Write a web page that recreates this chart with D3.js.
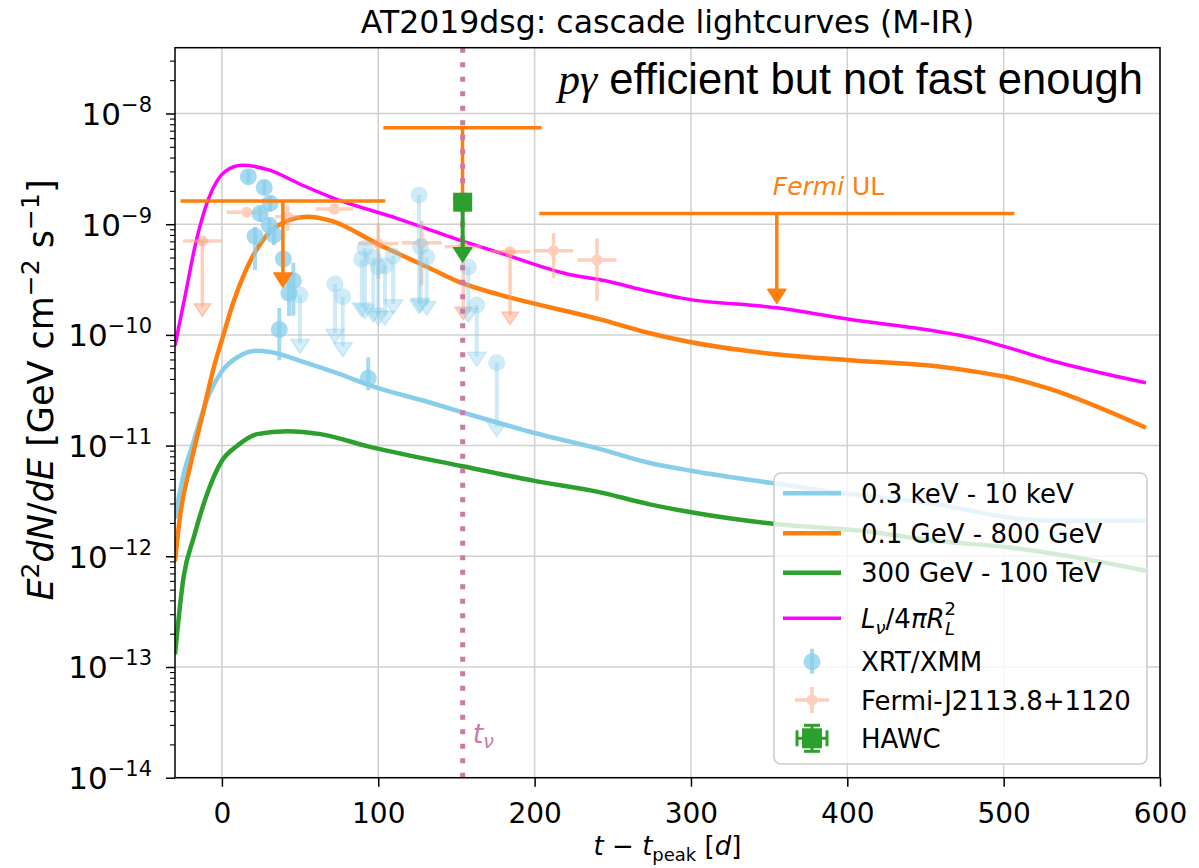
<!DOCTYPE html>
<html><head><meta charset="utf-8">
<script src="https://cdn.jsdelivr.net/npm/d3@7"></script>
<style>body{margin:0;background:#fff}</style>
</head><body>
<svg id="c" width="1199" height="868"></svg>
<script>
// ---------------- data ----------------
const xTicks = [0, 100, 200, 300, 400, 500, 600];
const yTickExps = [-14, -13, -12, -11, -10, -9, -8];

// model curves
const tXray = [-30, -24.5, -18, -10, 0, 10, 22, 31, 52, 70, 100, 133, 159, 200, 242, 273, 301, 356, 402, 457, 504, 528, 591];
const fXray = [2.2e-12, 5.5e-12, 1.1e-11, 2.5e-11, 4.7e-11, 6.3e-11, 7.2e-11, 7.0e-11, 5.7e-11, 4.7e-11, 3.3e-11, 2.45e-11, 1.9e-11, 1.3e-11, 9.3e-12, 7.0e-12, 5.9e-12, 4.5e-12, 3.65e-12, 2.96e-12, 2.24e-12, 2.1e-12, 2.1e-12];

const tGeV = [-30, -26.6, -20, -12, -5, 0, 7.5, 15, 25.6, 38.4, 55, 70, 101, 133, 154.5, 178, 242, 273, 296, 356, 402, 457, 480, 504, 528, 591];
const fGeV = [9e-13, 2.4e-12, 6.8e-12, 2.0e-11, 5.2e-11, 9e-11, 2.0e-10, 3.75e-10, 7.0e-10, 1.02e-9, 1.17e-9, 1.07e-9, 6.5e-10, 4.0e-10, 2.9e-10, 2.3e-10, 1.38e-10, 1.04e-10, 8.8e-11, 6.65e-11, 5.9e-11, 5.2e-11, 4.7e-11, 4.1e-11, 3.3e-11, 1.45e-11];

const tTeV = [-30, -24.5, -18, -9.5, 0, 9.6, 22.4, 41.6, 63, 92.8, 154, 200, 242, 273, 301, 354, 409, 457, 504, 540, 591];
const fTeV = [1.3e-13, 6.5e-13, 1.48e-12, 3.65e-12, 7.3e-12, 9.9e-12, 1.27e-11, 1.35e-11, 1.27e-11, 9.9e-12, 6.5e-12, 4.8e-12, 3.78e-12, 2.96e-12, 2.49e-12, 1.96e-12, 1.7e-12, 1.38e-12, 1.2e-12, 1.01e-12, 7.4e-13];

const tNu = [-30, -23.4, -17, -8.5, 2.2, 12.9, 29.9, 51.2, 70, 112, 154.5, 178, 223, 242, 273, 294, 356, 402, 457, 480, 504, 528, 591];
const fNu = [8e-11, 2.3e-10, 6.5e-10, 1.7e-9, 3.0e-9, 3.4e-9, 3.1e-9, 2.26e-9, 1.75e-9, 1.13e-9, 7.0e-10, 5.5e-10, 3.5e-10, 3.15e-10, 2.48e-10, 2.15e-10, 1.75e-10, 1.38e-10, 1.08e-10, 9.4e-11, 7.6e-11, 6.0e-11, 3.7e-11];

// XRT/XMM detections
const xrtT   = [16.9, 27.1, 30.8, 24.4, 30.3, 21.2, 33.3, 39.3, 45.7, 42.9, 36.7, 93.6];
const xrtF   = [2.69e-9, 2.15e-9, 1.55e-9, 1.25e-9, 9.8e-10, 7.8e-10, 7.97e-10, 4.86e-10, 3.09e-10, 2.38e-10, 1.12e-10, 4.06e-11];
const xrtLo  = [3.5e-10, 3.0e-10, 2.5e-10, 2.0e-10, 1.5e-10, 3.95e-10, 1.5e-10, 0.8e-10, 1.6e-10, 0.9e-10, 5.3e-11, 0.9e-11];
const xrtHi  = [3.5e-10, 3.0e-10, 2.5e-10, 2.0e-10, 1.5e-10, 1.7e-10, 1.2e-10, 0.8e-10, 1.4e-10, 0.8e-10, 6.3e-11, 2.2e-11];
// XRT/XMM upper limits
const xrtUlT   = [50, 126.1, 127.1, 131, 91.5, 89.4, 96.8, 100, 104.3, 109.6, 72.3, 77.3, 157.6, 163, 175.8];
const xrtUlF   = [2.29e-10, 1.84e-9, 6.27e-10, 5.02e-10, 6.05e-10, 4.82e-10, 5.0e-10, 4.13e-10, 4.21e-10, 5.16e-10, 2.88e-10, 2.21e-10, 4.08e-10, 1.86e-10, 5.6e-11];
const xrtUlTip = [6.8e-11, 1.55e-10, 1.6e-10, 1.5e-10, 1.4e-10, 1.45e-10, 1.3e-10, 1.22e-10, 1.22e-10, 1.55e-10, 8.4e-11, 6.35e-11, 1.3e-10, 5.2e-11, 1.2e-11];

// Fermi-J2113.8+1120 points
const fermT    = [15.9, 42, 71.9, 100, 127.8, 212.1, 239.9];
const fermF    = [1.28e-9, 1.17e-9, 1.37e-9, 6.7e-10, 6.8e-10, 5.77e-10, 4.75e-10];
const fermXerr = [12.8, 8, 12, 12.8, 12.8, 12.5, 12.5];
const fermYerr = [1.0e-10, 3.0e-10, 1.0e-10, 3.5e-10, 4.0e-10, 2.52e-10, 2.72e-10];
const fermUlT    = [-12.5, 154.4, 184.3];
const fermUlF    = [7.05e-10, 6.27e-10, 5.65e-10];
const fermUlXerr = [12.3, 11.7, 12.8];
const fermUlTip  = [1.46e-10, 1.36e-10, 1.23e-10];

// Fermi UL (bold)
const ulT    = [39, 153.9, 354.9];
const ulXerr = [65.5, 50.6, 151.9];
const ulF    = [1.62e-9, 7.45e-9, 1.25e-9];
const ulTip  = [2.71e-10, 1.3e-9, 1.93e-10];

// HAWC
const hawcT = [154];
const hawcF = [1.58e-9];
const hawcTip = [4.58e-10];

const tNuLine = 154;

const legendLabels = ["0.3 keV - 10 keV", "0.1 GeV - 800 GeV", "300 GeV - 100 TeV", "Lnu", "XRT/XMM", "Fermi-J2113.8+1120", "HAWC"];

// ---------------- drawing ----------------
const FONT = "DejaVu Sans";
const L = 175, R = 1160, T = 47.7, B = 777.7;
const svg = d3.select('#c');
svg.append('rect').attr('width', 1199).attr('height', 868).attr('fill', '#fff');

const x = d3.scaleLinear().domain([-30, 600]).range([L, R]);
const y = d3.scaleLog().domain([1e-14, 3.93e-8]).range([B, T]);

svg.append('clipPath').attr('id', 'clip').append('rect')
  .attr('x', L).attr('y', T).attr('width', R - L).attr('height', B - T);

// grid
const grid = svg.append('g').attr('stroke', '#d0d0d0').attr('stroke-width', 1.5);
xTicks.forEach(v => grid.append('line').attr('x1', x(v)).attr('x2', x(v)).attr('y1', T).attr('y2', B));
yTickExps.forEach(e => grid.append('line').attr('x1', L).attr('x2', R).attr('y1', y(Math.pow(10, e))).attr('y2', y(Math.pow(10, e))));

const plot = svg.append('g').attr('clip-path', 'url(#clip)');

// curves
const line = d3.line().x(d => x(d[0])).y(d => y(d[1])).curve(d3.curveMonotoneX);
function curve(ts, fs, color, w) {
  plot.append('path').datum(ts.map((t, i) => [t, fs[i]]))
    .attr('d', line).attr('fill', 'none').attr('stroke', color).attr('stroke-width', w)
    .attr('stroke-linejoin', 'round');
}
curve(tXray, fXray, '#87ceeb', 4.5);
curve(tGeV, fGeV, '#ff7f0e', 4.5);
curve(tTeV, fTeV, '#2ca02c', 4.5);
curve(tNu, fNu, '#ff00ff', 3.5);

function tri(g, cx, tipY, w, h, color, op) {
  g.append('path')
    .attr('d', `M${cx - w / 2},${tipY - h} L${cx + w / 2},${tipY - h} L${cx},${tipY} Z`)
    .attr('fill', color).attr('fill-opacity', op)
    .attr('stroke', color).attr('stroke-opacity', op).attr('stroke-width', 1.5).attr('stroke-linejoin', 'round');
}

// Fermi-J2113 points
const FERM = '#ffa07a';
const fg = plot.append('g');
fermT.forEach((t, i) => {
  const g = fg.append('g').attr('opacity', 0.5);
  g.append('line').attr('x1', x(t - fermXerr[i])).attr('x2', x(t + fermXerr[i]))
    .attr('y1', y(fermF[i])).attr('y2', y(fermF[i])).attr('stroke', FERM).attr('stroke-width', 3.5);
  g.append('line').attr('x1', x(t)).attr('x2', x(t))
    .attr('y1', y(fermF[i] + fermYerr[i])).attr('y2', y(Math.max(fermF[i] - fermYerr[i], 1e-14)))
    .attr('stroke', FERM).attr('stroke-width', 3.5);
  g.append('circle').attr('cx', x(t)).attr('cy', y(fermF[i])).attr('r', 5.5).attr('fill', FERM);
});
fermUlT.forEach((t, i) => {
  const g = fg.append('g');
  g.append('line').attr('x1', x(t - fermUlXerr[i])).attr('x2', x(t + fermUlXerr[i]))
    .attr('y1', y(fermUlF[i])).attr('y2', y(fermUlF[i])).attr('stroke', FERM).attr('stroke-width', 3.5).attr('stroke-opacity', 0.5);
  g.append('line').attr('x1', x(t)).attr('x2', x(t))
    .attr('y1', y(fermUlF[i])).attr('y2', y(fermUlTip[i]) - 10)
    .attr('stroke', FERM).attr('stroke-width', 3.5).attr('stroke-opacity', 0.5);
  tri(g, x(t), y(fermUlTip[i]), 17, 13, FERM, 0.45);
  g.append('circle').attr('cx', x(t)).attr('cy', y(fermUlF[i])).attr('r', 5.5).attr('fill', FERM).attr('fill-opacity', 0.55);
});

// XRT/XMM
const XRT = '#87ceeb';
const xg = plot.append('g');
xrtUlT.forEach((t, i) => {
  const g = xg.append('g');
  g.append('line').attr('x1', x(t)).attr('x2', x(t))
    .attr('y1', y(xrtUlF[i])).attr('y2', y(xrtUlTip[i]) - 10)
    .attr('stroke', XRT).attr('stroke-width', 4).attr('stroke-opacity', 0.4);
  tri(g, x(t), y(xrtUlTip[i]), 19, 14, XRT, 0.35);
  g.append('circle').attr('cx', x(t)).attr('cy', y(xrtUlF[i])).attr('r', 8.5)
    .attr('fill', XRT).attr('fill-opacity', 0.4);
});
xrtT.forEach((t, i) => {
  const g = xg.append('g');
  g.append('line').attr('x1', x(t)).attr('x2', x(t))
    .attr('y1', y(xrtF[i] + xrtHi[i])).attr('y2', y(xrtF[i] - xrtLo[i]))
    .attr('stroke', XRT).attr('stroke-width', 4).attr('stroke-opacity', 0.75);
  g.append('circle').attr('cx', x(t)).attr('cy', y(xrtF[i])).attr('r', 8.5)
    .attr('fill', XRT).attr('fill-opacity', 0.75);
});

// bold Fermi UL
const OR = '#ff7f0e';
ulT.forEach((t, i) => {
  plot.append('line').attr('x1', x(t - ulXerr[i])).attr('x2', x(t + ulXerr[i]))
    .attr('y1', y(ulF[i])).attr('y2', y(ulF[i])).attr('stroke', OR).attr('stroke-width', 3.5);
  plot.append('line').attr('x1', x(t)).attr('x2', x(t))
    .attr('y1', y(ulF[i])).attr('y2', y(ulTip[i]) - 10).attr('stroke', OR).attr('stroke-width', 3.5);
  tri(plot, x(t), y(ulTip[i]), 18, 14, OR, 1);
});

// t_nu line
plot.append('line').attr('x1', x(tNuLine)).attr('x2', x(tNuLine)).attr('y1', T).attr('y2', B)
  .attr('stroke', '#cc79a7').attr('stroke-width', 5).attr('stroke-dasharray', '5,9.5');

// HAWC
const GR = '#2ca02c';
hawcT.forEach((t, i) => {
  plot.append('line').attr('x1', x(t)).attr('x2', x(t))
    .attr('y1', y(hawcF[i])).attr('y2', y(hawcTip[i]) - 10).attr('stroke', GR).attr('stroke-width', 4);
  tri(plot, x(t), y(hawcTip[i]), 18, 14, GR, 1);
  plot.append('rect').attr('x', x(t) - 9.5).attr('y', y(hawcF[i]) - 9.5).attr('width', 19).attr('height', 19).attr('fill', GR);
});

// annotations
svg.append('text').attr('x', x(388)).attr('y', 195).attr('text-anchor', 'middle')
  .attr('font-family', FONT).attr('font-size', 25).attr('fill', OR)
  .call(t => { t.append('tspan').attr('font-style', 'italic').text('Fermi'); t.append('tspan').text(' UL'); });

svg.append('text').attr('x', x(160.4)).attr('y', 743)
  .attr('font-family', FONT).attr('font-size', 27).attr('fill', '#cc79a7')
  .call(t => { t.append('tspan').attr('font-style', 'italic').text('t');
               t.append('tspan').attr('font-style', 'italic').attr('font-size', 19).attr('dy', 5).text('ν'); });

svg.append('text').attr('x', 1143).attr('y', 94).attr('text-anchor', 'end')
  .attr('font-family', 'Liberation Sans').attr('font-size', 43.5).attr('fill', '#000')
  .call(t => { t.append('tspan').attr('font-family', 'Liberation Serif').attr('font-style', 'italic').text('pγ');
               t.append('tspan').text(' efficient but not fast enough'); });

// axes
const xAxis = d3.axisBottom(x).tickValues(xTicks).tickSize(9).tickPadding(16).tickFormat(d3.format('d'));
const gx = svg.append('g').attr('transform', `translate(0,${B})`).call(xAxis);
gx.select('.domain').remove();
gx.selectAll('line').attr('stroke', '#000').attr('stroke-width', 1.5);
gx.selectAll('text').attr('font-family', FONT).attr('font-size', 28).attr('fill', '#000');

const yMinor = [];
for (let e = -14; e <= -8; e++) for (let m = 2; m <= 9; m++) { const v = m * Math.pow(10, e); if (v < 3.93e-8) yMinor.push(v); }
const gyMinor = svg.append('g').attr('transform', `translate(${L},0)`)
  .call(d3.axisLeft(y).tickValues(yMinor).tickSize(5).tickFormat(''));
gyMinor.select('.domain').remove();
gyMinor.selectAll('line').attr('stroke', '#000').attr('stroke-width', 1.1);

const gy = svg.append('g').attr('transform', `translate(${L},0)`)
  .call(d3.axisLeft(y).tickValues(yTickExps.map(e => Math.pow(10, e))).tickSize(9).tickFormat(''));
gy.select('.domain').remove();
gy.selectAll('line').attr('stroke', '#000').attr('stroke-width', 1.5);
gy.selectAll('.tick').each(function (d) {
  const e = Math.round(Math.log10(d));
  const t = d3.select(this).append('text').attr('x', -23).attr('y', 11).attr('text-anchor', 'end')
    .attr('font-family', FONT).attr('fill', '#000').attr('font-size', 31);
  t.append('tspan').text('10');
  t.append('tspan').attr('font-size', 21).attr('dy', -13).text('−' + Math.abs(e));
});

// frame
svg.append('rect').attr('x', L).attr('y', T).attr('width', R - L).attr('height', B - T)
  .attr('fill', 'none').attr('stroke', '#000').attr('stroke-width', 1.5);

// title
svg.append('text').attr('x', (L + R) / 2).attr('y', 33).attr('text-anchor', 'middle')
  .attr('font-family', FONT).attr('font-size', 31.5).text('AT2019dsg: cascade lightcurves (M-IR)');

// x label
svg.append('text').attr('x', (L + R) / 2).attr('y', 855).attr('text-anchor', 'middle')
  .attr('font-family', FONT).attr('font-size', 26)
  .call(t => {
    t.append('tspan').attr('font-style', 'italic').text('t');
    t.append('tspan').text(' − ');
    t.append('tspan').attr('font-style', 'italic').text('t');
    t.append('tspan').attr('font-size', 18).attr('dy', 6).text('peak');
    t.append('tspan').attr('dy', -6).text(' [');
    t.append('tspan').attr('font-style', 'italic').text('d');
    t.append('tspan').text(']');
  });

// y label
svg.append('text').attr('transform', `translate(53,390) rotate(-90)`).attr('text-anchor', 'middle')
  .attr('font-family', FONT).attr('font-size', 35)
  .call(t => {
    t.append('tspan').attr('font-style', 'italic').text('E');
    t.append('tspan').attr('font-size', 25).attr('dy', -14).text('2');
    t.append('tspan').attr('dy', 14).attr('font-style', 'italic').text('dN');
    t.append('tspan').text('/');
    t.append('tspan').attr('font-style', 'italic').text('dE');
    t.append('tspan').text(' [GeV cm');
    t.append('tspan').attr('font-size', 25).attr('dy', -14).text('−2');
    t.append('tspan').attr('dy', 14).text(' s');
    t.append('tspan').attr('font-size', 25).attr('dy', -14).text('−1');
    t.append('tspan').attr('dy', 14).text(']');
  });

// legend
const lg = svg.append('g');
lg.append('rect').attr('x', 774).attr('y', 473).attr('width', 373).attr('height', 291).attr('rx', 7)
  .attr('fill', '#fff').attr('fill-opacity', 0.8).attr('stroke', '#cccccc').attr('stroke-width', 1.5);
const rowY = [493.3, 533.3, 572.7, 618.3, 661.7, 700, 738.3];
const lineCols = ['#87ceeb', '#ff7f0e', '#2ca02c', '#ff00ff'];
const lineW = [4.5, 4.5, 4.5, 3.5];
lineCols.forEach((c, i) => lg.append('line').attr('x1', 783).attr('x2', 841).attr('y1', rowY[i]).attr('y2', rowY[i])
  .attr('stroke', c).attr('stroke-width', lineW[i]));
// XRT marker
lg.append('line').attr('x1', 812).attr('x2', 812).attr('y1', rowY[4] - 13).attr('y2', rowY[4] + 12)
  .attr('stroke', XRT).attr('stroke-width', 4).attr('stroke-opacity', 0.75);
lg.append('circle').attr('cx', 812).attr('cy', rowY[4]).attr('r', 8.5).attr('fill', XRT).attr('fill-opacity', 0.75);
// Fermi marker
const lf = lg.append('g').attr('opacity', 0.5);
lf.append('line').attr('x1', 795).attr('x2', 829).attr('y1', rowY[5]).attr('y2', rowY[5]).attr('stroke', FERM).attr('stroke-width', 3.5);
lf.append('line').attr('x1', 812).attr('x2', 812).attr('y1', rowY[5] - 13).attr('y2', rowY[5] + 13).attr('stroke', FERM).attr('stroke-width', 3.5);
lf.append('circle').attr('cx', 812).attr('cy', rowY[5]).attr('r', 5.5).attr('fill', FERM);
// HAWC marker
const hy = rowY[6];
lg.append('line').attr('x1', 812).attr('x2', 812).attr('y1', hy - 13).attr('y2', hy + 13).attr('stroke', GR).attr('stroke-width', 3);
lg.append('line').attr('x1', 797).attr('x2', 827).attr('y1', hy).attr('y2', hy).attr('stroke', GR).attr('stroke-width', 3);
[[-8, -13, 8, -13], [-8, 13, 8, 13], [-15, -8, -15, 8], [15, -8, 15, 8]].forEach(c =>
  lg.append('line').attr('x1', 812 + c[0]).attr('y1', hy + c[1]).attr('x2', 812 + c[2]).attr('y2', hy + c[3]).attr('stroke', GR).attr('stroke-width', 3));
lg.append('rect').attr('x', 802).attr('y', hy - 10).attr('width', 20).attr('height', 20).attr('fill', GR);

legendLabels.forEach((lab, i) => {
  const t = lg.append('text').attr('x', 861).attr('y', rowY[i] + 9.5).attr('font-family', FONT).attr('font-size', 26);
  if (lab === 'Lnu') {
    t.append('tspan').attr('font-style', 'italic').text('L');
    t.append('tspan').attr('font-style', 'italic').attr('font-size', 18).attr('dy', 6).text('ν');
    t.append('tspan').attr('dy', -6).text('/4');
    t.append('tspan').attr('font-style', 'italic').text('πR');
    t.append('tspan').attr('font-size', 18).attr('dy', -13).text('2');
    t.append('tspan').attr('font-style', 'italic').attr('font-size', 18).attr('dx', -11).attr('dy', 20).text('L');
  } else t.text(lab);
});
</script>
</body></html>
